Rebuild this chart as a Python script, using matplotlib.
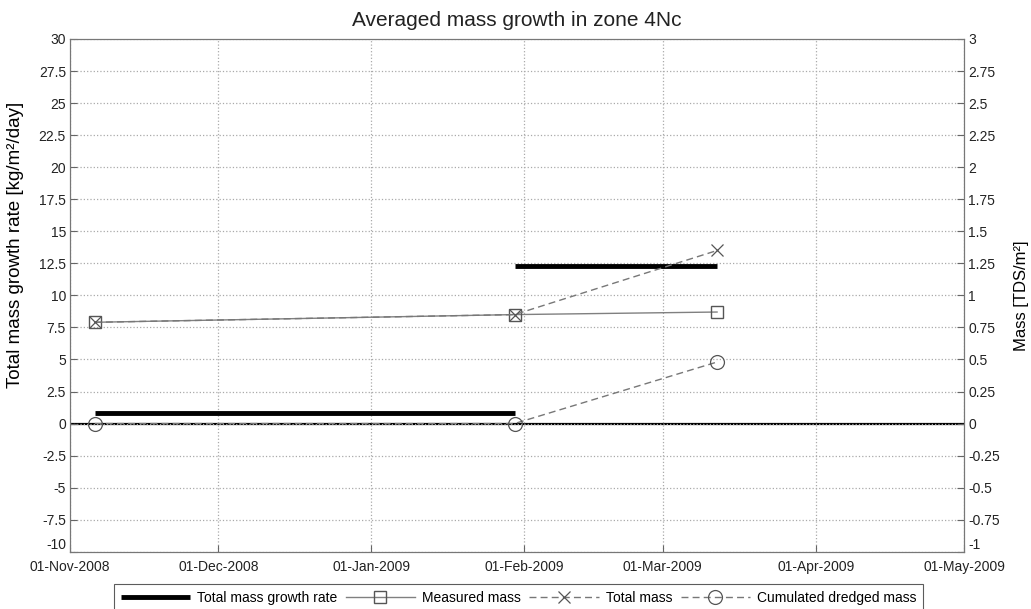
# mass growth chart, zone 4Nc
import matplotlib.pyplot as plt
import matplotlib.dates as mdates
from matplotlib.ticker import FuncFormatter
import numpy as np
import pandas as pd

plt.rcParams['font.family'] = ['Liberation Sans', 'DejaVu Sans']

# data
dates = pd.to_datetime(['2008-11-06', '2009-01-30', '2009-03-12'])
rate_values = [0.8, 12.3]                 # kg/m2/day, per interval
measured_mass = [0.79, 0.85, 0.87]        # TDS/m2
total_mass = [0.79, 0.85, 1.35]
dredged_mass = [0.0, 0.0, 0.48]

xticks = pd.date_range('2008-11-01', '2009-05-01', freq='MS')

fig = plt.figure(figsize=(10.31, 6.09), dpi=100)
ax = fig.add_axes([0.068, 0.094, 0.867, 0.842])
ax2 = ax.twinx()

# growth rate, one segment per interval
h_rate = None
for i in range(len(rate_values)):
    h_rate, = ax.plot([dates[i], dates[i + 1]], [rate_values[i], rate_values[i]],
                      color='black', lw=3.5, solid_capstyle='butt',
                      label='Total mass growth rate')
ax.axhline(0, color='black', lw=1.6, zorder=1)

h_meas, = ax2.plot(dates, measured_mass, color='#808080', lw=1.0, marker='s',
                   ms=8, mfc='none', mec='#555555', mew=1.0, label='Measured mass')
h_tot, = ax2.plot(dates, total_mass, color='#777777', lw=1.0, ls=(0, (5, 3)),
                  marker='x', ms=9, mec='#555555', mew=0.9, label='Total mass')
h_dr, = ax2.plot(dates, dredged_mass, color='#777777', lw=1.0, ls=(0, (5, 3)),
                 marker='o', ms=10, mfc='none', mec='#555555', mew=0.9,
                 label='Cumulated dredged mass')

ax.set_xlim(pd.Timestamp('2008-11-01'), pd.Timestamp('2009-05-01'))
ax.set_ylim(-10, 30)
ax2.set_ylim(-1, 3)
ax.set_xticks(xticks)
ax.xaxis.set_major_formatter(mdates.DateFormatter('%d-%b-%Y'))
ax.set_yticks(np.arange(-10, 30.1, 2.5))
ax2.set_yticks(np.arange(-1, 3.01, 0.25))
fmt = FuncFormatter(lambda v, p: '%g' % v)
ax.yaxis.set_major_formatter(fmt)
ax2.yaxis.set_major_formatter(fmt)

ax.grid(True, ls=':', color='#aaaaaa', lw=0.9)
for a in (ax, ax2):
    a.tick_params(direction='in', labelsize=10, length=5, color='#666666',
                  labelcolor='#222222', pad=3)
    for s in a.spines.values():
        s.set_color('#777777')
ax.tick_params(axis='x', pad=6)

# lowest y labels sit just above the x axis line, like the original
fig.canvas.draw()
ax.get_yticklabels()[0].set_va('bottom')
ax2.get_yticklabels()[0].set_va('bottom')

ax.set_ylabel('Total mass growth rate [kg/m²/day]', fontsize=13.5)
ax.yaxis.set_label_coords(-0.0515, 0.598)
ax2.set_ylabel('Mass [TDS/m²]', fontsize=12, labelpad=10)
ax.set_title('Averaged mass growth in zone 4Nc', fontsize=15, pad=9,
             color='#222222')

leg = fig.legend([h_rate, h_meas, h_tot, h_dr],
                 ['Total mass growth rate', 'Measured mass', 'Total mass',
                  'Cumulated dredged mass'],
                 loc='upper center', bbox_to_anchor=(0.503, 0.041), ncol=4,
                 fontsize=10, frameon=True, fancybox=False, edgecolor='#333333',
                 handlelength=5, columnspacing=0.6, handletextpad=0.5,
                 borderpad=0.5, borderaxespad=0)
leg.get_frame().set_linewidth(0.8)

fig.savefig('out.png', dpi=100)
